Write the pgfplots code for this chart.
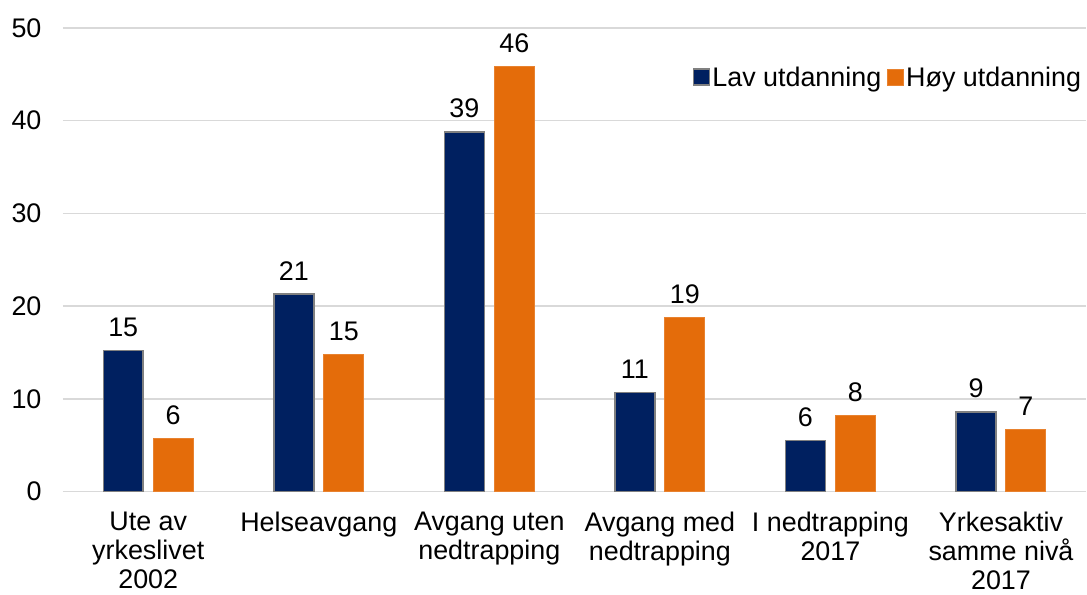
\documentclass[border=0pt]{standalone}
\usepackage{pgfplots}
\pgfplotsset{compat=1.18}
\usepackage{pgfplotstable}
\usepackage{fontspec}
\setmainfont{Liberation Sans}
\definecolor{navy}{RGB}{0,32,96}
\definecolor{orng}{RGB}{228,108,10}
\definecolor{gridc}{RGB}{217,217,217}
\pgfplotstableread{
x y lab
0 15.2 15
1 21.3 21
2 38.8 39
3 10.7 11
4 5.5 6
5 8.6 9
}\lav
\pgfplotstableread{
x y lab
0 5.7 6
1 14.8 15
2 45.8 46
3 18.75 19
4 8.2 8
5 6.7 7
}\hoy
\begin{document}
\begin{tikzpicture}
\begin{axis}[
  scale only axis,
  width=1024bp, height=464bp,
  xmin=-0.5, xmax=5.5,
  ymin=0, ymax=50,
  ytick={0,10,...,50},
  xtick={0,...,5},
  xticklabels={{Ute av\\yrkeslivet\\2002},{Helseavgang},{Avgang uten\\nedtrapping},{Avgang med\\nedtrapping},{I nedtrapping\\2017},{Yrkesaktiv\\samme nivå\\2017}},
  axis line style={draw=none},
  ymajorgrids,
  grid style={gridc, line width=1.5bp},
  major tick length=0pt,
  /pgf/number format/assume math mode=true,
  tick label style={font=\fontsize{27}{29}\selectfont},
  xticklabel style={align=center, yshift=-17bp},
  yticklabel style={xshift=-18bp},
  ybar,
  bar width=40bp,
  nodes near coords,
  point meta=explicit symbolic,
  every node near coord/.append style={font=\fontsize{27}{29}\selectfont, yshift=10bp},
  legend columns=2,
  legend style={draw=none, fill=none, at={(1,0.894)}, anchor=east, font=\fontsize{27}{29}\selectfont,
    /tikz/every even column/.append style={column sep=4bp}},
  legend image code/.code={\draw[#1] (0bp,-8bp) rectangle (16bp,8bp);},
]
\addplot[fill=navy, draw=gray, line width=1.5bp, bar shift=-25bp] table[x=x,y=y,meta=lab]{\lav};
\addplot[fill=orng, draw=orng!85!white, line width=1bp, bar shift=25bp] table[x=x,y=y,meta=lab]{\hoy};
\legend{Lav utdanning, Høy utdanning}
\end{axis}
\path[use as bounding box] (current axis.south west) ++(-63bp,-103bp) rectangle ([yshift=28bp]current axis.north east);
\end{tikzpicture}
\end{document}
